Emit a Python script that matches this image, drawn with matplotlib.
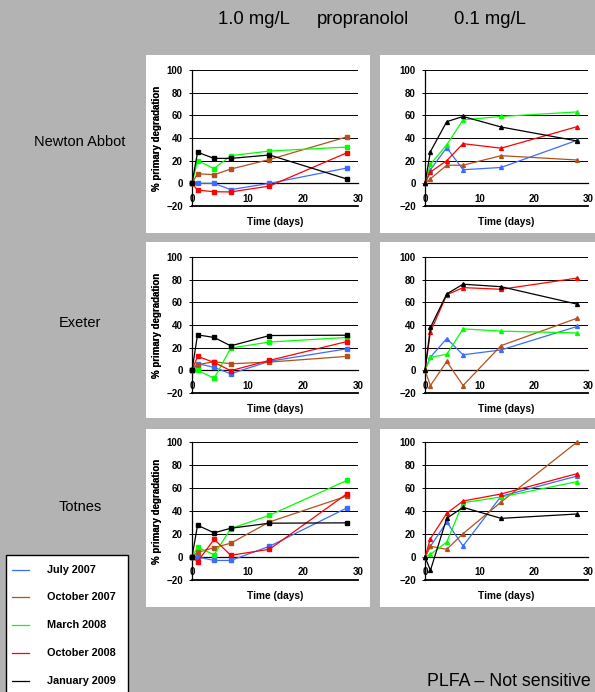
import matplotlib
matplotlib.use('Agg')
import matplotlib.pyplot as plt
from matplotlib.patches import Rectangle
from matplotlib.lines import Line2D

plt.rcParams['font.family'] = ['Liberation Sans', 'DejaVu Sans']

days = [0, 1, 4, 7, 14, 28]
series_labels = ['July 2007', 'October 2007', 'March 2008', 'October 2008', 'January 2009']
series_colors = ['#3a6dff', '#b4501c', '#00ff00', '#ff0000', '#000000']

# series order: July 2007, October 2007, March 2008, October 2008, January 2009
newton_1mg = [[0, 0, 0, -5.6, 0, 13.5],
              [0, 8.5, 7.6, 12.6, 21, 41],
              [0, 20, 13, 24.4, 28.5, 32],
              [0, -6, -7.4, -7.6, -2.4, 27],
              [0, 27.4, 22, 22, 25, 3.8]]
newton_01mg = [[0, 12, 31.5, 12, 14, 38],
               [0, 4, 16, 16, 24.4, 20.6],
               [0, 16.8, 34, 56, 59, 63],
               [0, 10, 20, 35, 31, 50],
               [0, 28, 54.4, 59, 49.7, 37.4]]
exeter_1mg = [[0, 6, 2.6, -3, 8, 19],
              [0, 5, 7.6, 5.8, 7.3, 12.3],
              [0, 0, -7, 19.6, 25, 29],
              [0, 12.3, 7, -0.3, 8.8, 25.4],
              [0, 31.3, 29, 21.6, 30.7, 31]]
exeter_01mg = [[0, 11.6, 28, 13.7, 18, 38.7],
               [0, -13.4, 7.8, -13.4, 21.8, 46],
               [0, 11.6, 14, 36.6, 34.6, 33],
               [0, 34, 66.6, 73, 71.5, 81.4],
               [0, 37.8, 67.4, 76, 73.8, 58.4]]
totnes_1mg = [[0, 0, -3, -3, 9.3, 42.7],
              [0, 4, 8.1, 12, 30.5, 53],
              [0, 8.4, 2, 24.7, 36.3, 66.6],
              [0, -4, 15.4, 1.5, 6.7, 55],
              [0, 27.6, 21, 25, 29.4, 29.7]]
totnes_01mg = [[0, 9.3, 30.4, 9.6, 52.8, 70.4],
               [0, 9.3, 6.7, 20.3, 47.8, 100],
               [0, 2.3, 13, 47.2, 52.2, 65.5],
               [0, 16, 38, 48.7, 54.8, 72.5],
               [0, -11.6, 33.6, 43.2, 33.6, 37.4]]

sites = ['Newton Abbot', 'Exeter', 'Totnes']
panels = [[newton_1mg, newton_01mg], [exeter_1mg, exeter_01mg], [totnes_1mg, totnes_01mg]]
markers = ['s', '^']

W, H = 595, 692
fig = plt.figure(figsize=(W / 100, H / 100), dpi=100)
fig.patch.set_facecolor('#b3b3b3')

def fr(x0, y0, x1, y1):
	# pixel box (top-left origin) -> figure fraction rect
	return [x0 / W, 1 - y1 / H, (x1 - x0) / W, (y1 - y0) / H]

col_ax = [(192, 358), (425, 588)]
col_box = [(146, 370), (380, 600)]
row_ax = [(70, 206), (257, 393), (442, 580)]
row_box = [(55, 233), (242, 418), (429, 607)]
row_label_y = [142, 323, 507]

for r in range(3):
	fig.text(80 / W, 1 - row_label_y[r] / H, sites[r], fontsize=10.5, ha='center', va='center')
	for c in range(2):
		bx = fr(col_box[c][0], row_box[r][0], col_box[c][1], row_box[r][1])
		fig.patches.append(Rectangle((bx[0], bx[1]), bx[2], bx[3], transform=fig.transFigure,
		                             facecolor='white', edgecolor='none', zorder=-5))

		x0, x1 = col_ax[c]
		y0, y1 = row_ax[r]
		ax = fig.add_axes(fr(x0, y0, x1, y1))
		ax.set_facecolor('none')
		for k in range(5):
			ax.plot(days, panels[r][c][k], color=series_colors[k], marker=markers[c],
			        markersize=2.8, linewidth=0.9, clip_on=False, zorder=3)
		ax.set_xlim(0, 30)
		ax.set_ylim(-20, 100)
		ax.set_xticks([0, 10, 20, 30])
		ax.set_yticks(range(-20, 101, 20))
		ax.yaxis.grid(True, color='black', linewidth=0.7)
		ax.axhline(-20, color='black', linewidth=1.3, clip_on=False, zorder=2)
		ax.set_axisbelow(True)
		ax.spines['bottom'].set_position(('data', 0))
		ax.spines['top'].set_visible(False)
		ax.spines['right'].set_visible(False)
		ax.spines['left'].set_linewidth(0.9)
		ax.spines['bottom'].set_linewidth(0.9)
		ax.tick_params(axis='y', length=2.2, width=0.7, pad=4.3, labelsize=7)
		ax.tick_params(axis='x', length=0, pad=7.5, labelsize=7)
		for lab in ax.get_xticklabels() + ax.get_yticklabels():
			lab.set_fontweight('bold')
		ax.set_ylabel('% primary degradation', fontsize=7, fontweight='bold', va='center')
		ax.yaxis.set_label_coords((157 - x0) / (x1 - x0), 0.5)
		ax.set_xlabel('Time (days)', fontsize=7.3, fontweight='bold', va='center')
		ax.xaxis.set_label_coords(0.5, -15.7 / (y1 - y0))

# top titles
fig.text(254 / W, 1 - 19 / H, '1.0 mg/L', fontsize=13.3, ha='center', va='center')
fig.text(363 / W, 1 - 19 / H, 'propranolol', fontsize=13.3, ha='center', va='center')
fig.text(490 / W, 1 - 19 / H, '0.1 mg/L', fontsize=13.3, ha='center', va='center')

# legend
lb = fr(6, 555, 128, 700)
fig.patches.append(Rectangle((lb[0], lb[1]), lb[2], lb[3], transform=fig.transFigure,
                             facecolor='white', edgecolor='black', linewidth=1.0, zorder=1))
leg_y = [570, 597, 625, 653, 681]
for k in range(5):
	y = 1 - leg_y[k] / H
	fig.lines.append(Line2D([12 / W, 29 / W], [y, y], transform=fig.transFigure,
	                        color=series_colors[k], linewidth=0.9, zorder=2))
	fig.text(47 / W, y, series_labels[k], fontsize=7.8, fontweight='bold', va='center', zorder=3)

fig.text(427 / W, 1 - 681 / H, 'PLFA \u2013 Not sensitive', fontsize=12.8, va='center')

fig.savefig('out.png', dpi=100, facecolor=fig.get_facecolor())
